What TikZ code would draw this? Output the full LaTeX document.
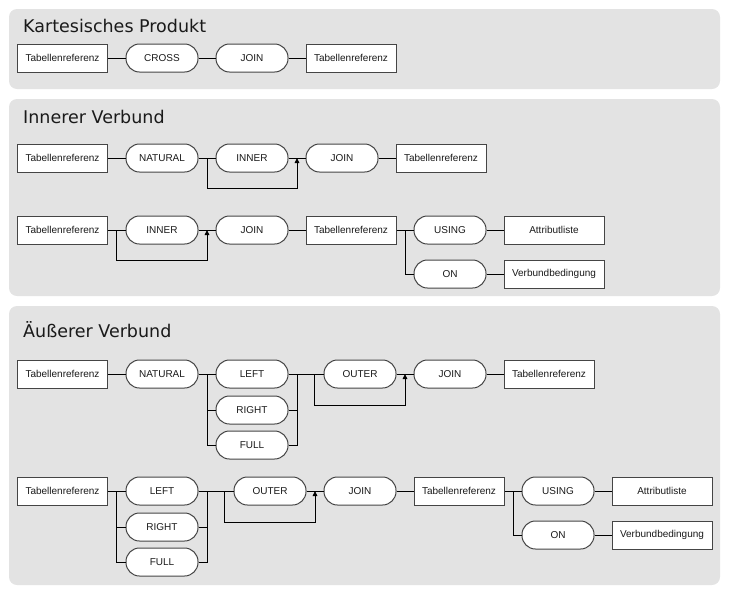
\documentclass[tikz,border=0pt]{standalone}
\usepackage{fontspec}
\newfontfamily\nodefont{Liberation Sans}
\newfontfamily\titlefont{DejaVu Sans}
\usetikzlibrary{calc,arrows.meta}
\definecolor{panelgray}{HTML}{E3E3E3}
\definecolor{edgegray}{HTML}{454545}
\definecolor{textgray}{HTML}{1A1A1A}
\tikzset{
  panel/.style={fill=panelgray,draw=none,rounded corners=8pt},
  ptitle/.style={anchor=base west,inner sep=0pt,text=textgray,font=\titlefont\fontsize{17.5}{20}\selectfont},
  tbox/.style={draw=edgegray,fill=white,line width=1pt,minimum width=90pt,minimum height=28pt,inner sep=1pt,text=textgray,font=\nodefont\fontsize{10}{12}\selectfont},
  wbox/.style={tbox,minimum width=100pt},
  pill/.style={draw=edgegray,fill=white,line width=1pt,rounded corners=13.5pt,minimum width=72pt,minimum height=28pt,inner sep=1pt,text=textgray,font=\nodefont\fontsize{10}{12}\selectfont},
  conn/.style={draw=black,line width=0.9pt},
  arr/.style={conn,-{Triangle[length=5pt,width=4.5pt]}}
}
\begin{document}
\begin{tikzpicture}[x=1pt,y=-1pt]
\useasboundingbox (0,0) rectangle (730,600);
% panels
\path[panel] (9,9) rectangle (720,89);
\path[panel] (9,99) rectangle (720,296);
\path[panel] (9,306) rectangle (720,585);
\node[ptitle] (t1) at (23,32) {Kartesisches Produkt};
\node[ptitle] (t2) at (23,123) {Innerer Verbund};
\node[ptitle] (t3) at (23,337) {Äußerer Verbund};

% Row A
\node[tbox] (a1) at (62.5,58) {Tabellenreferenz};
\node[pill] (a2) at (162,58) {CROSS};
\node[pill] (a3) at (252,58) {JOIN};
\node[tbox] (a4) at (351,58) {Tabellenreferenz};
\draw[conn] (a1) -- (a2);
\draw[conn] (a2) -- (a3);
\draw[conn] (a3) -- (a4);

% Row B
\node[tbox] (b1) at (62.5,158) {Tabellenreferenz};
\node[pill] (b2) at (162,158) {NATURAL};
\node[pill] (b3) at (252,158) {INNER};
\node[pill] (b4) at (342,158) {JOIN};
\node[tbox] (b5) at (441,158) {Tabellenreferenz};
\draw[conn] (b1) -- (b2);
\draw[conn] (b2) -- (b3);
\draw[conn] (b3) -- (b4);
\draw[conn] (b4) -- (b5);
\coordinate (bp1) at ($(b2.east)!.5!(b3.west)$);
\coordinate (bp2) at ($(b3.east)!.5!(b4.west)$);
\draw[arr] (bp1) -- ++(0,30) -| (bp2);

% Row C
\node[tbox] (c1) at (62.5,230) {Tabellenreferenz};
\node[pill] (c2) at (162,230) {INNER};
\node[pill] (c3) at (252,230) {JOIN};
\node[tbox] (c4) at (351,230) {Tabellenreferenz};
\node[pill] (c5) at (450,230) {USING};
\node[wbox] (c6) at (554,230) {Attributliste};
\node[pill] (c7) at (450,274) {ON};
\node[wbox] (c8) at (554,274) {Verbundbedingung};
\draw[conn] (c1) -- (c2);
\draw[conn] (c2) -- (c3);
\draw[conn] (c3) -- (c4);
\draw[conn] (c4) -- (c5);
\draw[conn] (c5) -- (c6);
\draw[conn] (c7) -- (c8);
\coordinate (cp1) at ($(c1.east)!.5!(c2.west)$);
\coordinate (cp2) at ($(c2.east)!.5!(c3.west)$);
\draw[arr] (cp1) -- ++(0,30) -| (cp2);
\coordinate (cj) at ($(c4.east)!.5!(c5.west)$);
\draw[conn] (cj) |- (c7.west);

% Row D
\node[tbox] (d1) at (62.5,374) {Tabellenreferenz};
\node[pill] (d2) at (162,374) {NATURAL};
\node[pill] (d3) at (252,374) {LEFT};
\node[pill] (d4) at (252,410) {RIGHT};
\node[pill] (d5) at (252,445) {FULL};
\node[pill] (d6) at (360,374) {OUTER};
\node[pill] (d7) at (450,374) {JOIN};
\node[tbox] (d8) at (549,374) {Tabellenreferenz};
\draw[conn] (d1) -- (d2);
\draw[conn] (d2) -- (d3);
\coordinate (dl) at ($(d2.east)!.5!(d3.west)$);
\draw[conn] (dl) |- (d4.west);
\draw[conn] (dl) |- (d5.west);
\coordinate (dr) at ($(d3.east)+(9,0)$);
\draw[conn] (d3) -- (d6);
\draw[conn] (d4.east) -| (dr);
\draw[conn] (d5.east) -| (dr);
\draw[conn] (d6) -- (d7);
\draw[conn] (d7) -- (d8);
\coordinate (dp1) at ($(d6.west)+(-9,0)$);
\coordinate (dp2) at ($(d6.east)!.5!(d7.west)$);
\draw[arr] (dp1) -- ++(0,31) -| (dp2);

% Row E
\node[tbox] (e1) at (62.5,491) {Tabellenreferenz};
\node[pill] (e2) at (162,491) {LEFT};
\node[pill] (e3) at (162,527) {RIGHT};
\node[pill] (e4) at (162,562) {FULL};
\node[pill] (e5) at (270,491) {OUTER};
\node[pill] (e6) at (360,491) {JOIN};
\node[tbox] (e7) at (459,491) {Tabellenreferenz};
\node[pill] (e8) at (558,491) {USING};
\node[wbox] (e9) at (662,491) {Attributliste};
\node[pill] (e10) at (558,535) {ON};
\node[wbox] (e11) at (662,535) {Verbundbedingung};
\draw[conn] (e1) -- (e2);
\coordinate (el) at ($(e1.east)!.5!(e2.west)$);
\draw[conn] (el) |- (e3.west);
\draw[conn] (el) |- (e4.west);
\coordinate (er) at ($(e2.east)+(9,0)$);
\draw[conn] (e2) -- (e5);
\draw[conn] (e3.east) -| (er);
\draw[conn] (e4.east) -| (er);
\draw[conn] (e5) -- (e6);
\draw[conn] (e6) -- (e7);
\draw[conn] (e7) -- (e8);
\draw[conn] (e8) -- (e9);
\draw[conn] (e10) -- (e11);
\coordinate (ep1) at ($(e5.west)+(-9,0)$);
\coordinate (ep2) at ($(e5.east)!.5!(e6.west)$);
\draw[arr] (ep1) -- ++(0,31) -| (ep2);
\coordinate (ej) at ($(e7.east)!.5!(e8.west)$);
\draw[conn] (ej) |- (e10.west);
\end{tikzpicture}
\end{document}
